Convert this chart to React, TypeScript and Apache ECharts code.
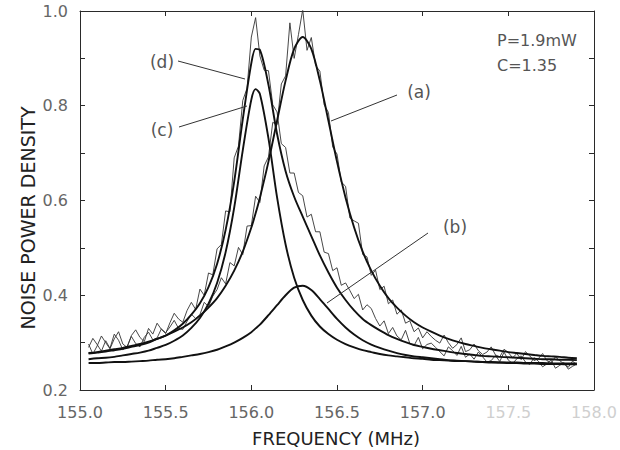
import React, { useEffect, useRef } from "react";
import * as echarts from "echarts";

// Frequencies (MHz) for the fitted curves
const freqFit = [
  155.05, 155.10, 155.15, 155.20, 155.25, 155.30, 155.35, 155.40, 155.45, 155.50,
  155.55, 155.60, 155.65, 155.70, 155.75, 155.80, 155.85, 155.90, 155.95, 156.00,
  156.025,
  156.05, 156.10, 156.15, 156.20, 156.25, 156.30, 156.35, 156.40, 156.45, 156.50,
  156.55, 156.60, 156.65, 156.70, 156.75, 156.80, 156.85, 156.90, 156.95, 157.00,
  157.05, 157.10, 157.15, 157.20, 157.25, 157.30, 157.35, 157.40, 157.45, 157.50,
  157.55, 157.60, 157.65, 157.70, 157.75, 157.80, 157.85, 157.90,
];

const fitA = [
  0.278, 0.280, 0.283, 0.286, 0.289, 0.293, 0.297, 0.302, 0.308, 0.315,
  0.323, 0.332, 0.343, 0.357, 0.374, 0.394, 0.420, 0.452, 0.492, 0.543,
  0.573,
  0.606, 0.682, 0.768, 0.853, 0.920, 0.945, 0.920, 0.853, 0.768, 0.682,
  0.606, 0.543, 0.492, 0.452, 0.420, 0.394, 0.374, 0.357, 0.343, 0.332,
  0.323, 0.315, 0.308, 0.302, 0.297, 0.293, 0.289, 0.286, 0.283, 0.280,
  0.278, 0.276, 0.274, 0.272, 0.271, 0.270, 0.268, 0.267,
];

const fitB = [
  0.257, 0.257, 0.258, 0.259, 0.259, 0.260, 0.261, 0.262, 0.264, 0.265,
  0.267, 0.270, 0.273, 0.276, 0.280, 0.285, 0.292, 0.300, 0.310, 0.322,
  0.330,
  0.338, 0.358, 0.379, 0.400, 0.416, 0.420, 0.411, 0.392, 0.371, 0.350,
  0.332, 0.317, 0.305, 0.296, 0.289, 0.283, 0.278, 0.274, 0.271, 0.269,
  0.267, 0.265, 0.263, 0.262, 0.261, 0.260, 0.259, 0.258, 0.258, 0.257,
  0.257, 0.256, 0.256, 0.255, 0.255, 0.255, 0.254, 0.254,
];

const fitC = [
  0.265, 0.267, 0.268, 0.270, 0.273, 0.276, 0.279, 0.283, 0.289, 0.295,
  0.304, 0.315, 0.331, 0.352, 0.382, 0.426, 0.491, 0.585, 0.706, 0.813,
  0.835,
  0.825, 0.731, 0.607, 0.507, 0.437, 0.390, 0.357, 0.334, 0.318, 0.306,
  0.297, 0.290, 0.284, 0.280, 0.276, 0.273, 0.271, 0.269, 0.267, 0.266,
  0.264, 0.263, 0.262, 0.261, 0.261, 0.260, 0.259, 0.259, 0.258, 0.258,
  0.258, 0.257, 0.257, 0.257, 0.256, 0.256, 0.256, 0.256,
];

const fitD = [
  0.277, 0.279, 0.281, 0.284, 0.287, 0.291, 0.295, 0.300, 0.308, 0.315,
  0.326, 0.340, 0.359, 0.383, 0.417, 0.466, 0.538, 0.640, 0.771, 0.890,
  0.920,
  0.918, 0.844, 0.741, 0.662, 0.608, 0.566, 0.525, 0.484, 0.448, 0.416,
  0.390, 0.368, 0.350, 0.337, 0.326, 0.316, 0.308, 0.301, 0.295, 0.291,
  0.287, 0.284, 0.281, 0.278, 0.276, 0.274, 0.272, 0.271, 0.270, 0.269,
  0.268, 0.267, 0.266, 0.265, 0.265, 0.264, 0.264, 0.263,
];

// Frequencies (MHz) for the measured (noisy) spectra
const freqNoisy = [
  155.050, 155.075, 155.100, 155.125, 155.150, 155.175, 155.200, 155.225, 155.250, 155.275,
  155.300, 155.325, 155.350, 155.375, 155.400, 155.425, 155.450, 155.475, 155.500, 155.525,
  155.550, 155.575, 155.600, 155.625, 155.650, 155.675, 155.700, 155.725, 155.750, 155.775,
  155.800, 155.825, 155.850, 155.875, 155.900, 155.925, 155.950, 155.975, 156.000, 156.025,
  156.050, 156.075, 156.100, 156.125, 156.150, 156.175, 156.200, 156.225, 156.250, 156.275,
  156.300, 156.325, 156.350, 156.375, 156.400, 156.425, 156.450, 156.475, 156.500, 156.525,
  156.550, 156.575, 156.600, 156.625, 156.650, 156.675, 156.700, 156.725, 156.750, 156.775,
  156.800, 156.825, 156.850, 156.875, 156.900, 156.925, 156.950, 156.975, 157.000, 157.025,
  157.050, 157.075, 157.100, 157.125, 157.150, 157.175, 157.200, 157.225, 157.250, 157.275,
  157.300, 157.325, 157.350, 157.375, 157.400, 157.425, 157.450, 157.475, 157.500, 157.525,
  157.550, 157.575, 157.600, 157.625, 157.650, 157.675, 157.700, 157.725, 157.750, 157.775,
  157.800, 157.825, 157.850, 157.875, 157.900,
];

const noisyA = [
  0.290, 0.309, 0.296, 0.282, 0.304, 0.288, 0.318, 0.305, 0.285, 0.292,
  0.313, 0.298, 0.291, 0.311, 0.322, 0.306, 0.310, 0.329, 0.321, 0.333,
  0.347, 0.330, 0.328, 0.345, 0.360, 0.351, 0.359, 0.385, 0.376, 0.398,
  0.412, 0.437, 0.424, 0.469, 0.462, 0.501, 0.486, 0.546, 0.547, 0.609,
  0.596, 0.673, 0.692, 0.765, 0.760, 0.846, 0.863, 0.975, 0.900, 0.950,
  1.003, 0.917, 0.944, 0.885, 0.873, 0.802, 0.786, 0.713, 0.698, 0.639,
  0.630, 0.563, 0.557, 0.552, 0.486, 0.481, 0.442, 0.453, 0.412, 0.419,
  0.382, 0.390, 0.360, 0.369, 0.341, 0.346, 0.323, 0.331, 0.310, 0.323,
  0.313, 0.305, 0.299, 0.316, 0.300, 0.288, 0.296, 0.310, 0.281, 0.285,
  0.297, 0.283, 0.275, 0.280, 0.291, 0.274, 0.270, 0.286, 0.279, 0.268,
  0.277, 0.264, 0.281, 0.272, 0.262, 0.266, 0.277, 0.262, 0.257, 0.270,
  0.262, 0.255, 0.248, 0.261, 0.253,
];

const noisyD = [
  0.297, 0.276, 0.293, 0.314, 0.300, 0.287, 0.308, 0.323, 0.297, 0.290,
  0.315, 0.327, 0.311, 0.302, 0.330, 0.318, 0.341, 0.328, 0.319, 0.342,
  0.362, 0.350, 0.343, 0.368, 0.385, 0.370, 0.413, 0.400, 0.447, 0.443,
  0.498, 0.507, 0.578, 0.576, 0.690, 0.715, 0.811, 0.837, 0.945, 0.986,
  0.905, 0.875, 0.874, 0.802, 0.787, 0.720, 0.712, 0.658, 0.658, 0.617,
  0.610, 0.565, 0.571, 0.534, 0.534, 0.491, 0.488, 0.452, 0.458, 0.421,
  0.426, 0.410, 0.393, 0.402, 0.369, 0.380, 0.372, 0.351, 0.335, 0.346,
  0.319, 0.332, 0.314, 0.306, 0.326, 0.298, 0.294, 0.311, 0.287, 0.296,
  0.299, 0.290, 0.281, 0.272, 0.291, 0.283, 0.273, 0.292, 0.269, 0.276,
  0.265, 0.280, 0.270, 0.259, 0.262, 0.273, 0.260, 0.280, 0.263, 0.256,
  0.266, 0.272, 0.259, 0.254, 0.268, 0.261, 0.249, 0.255, 0.263, 0.246,
  0.252, 0.258, 0.244, 0.250, 0.255,
];

const fadedTicks = [157.5, 158.0];

const pair = (xs: number[], ys: number[]) => xs.map((x, i) => [x, ys[i]]);

export default function App() {
  const ref = useRef<HTMLDivElement>(null);

  useEffect(() => {
    if (!ref.current) return;
    const chart = echarts.init(ref.current, null, { renderer: "svg" });
    const font = "DejaVu Sans";
    const ink = "#2a2a2a";
    const axisLine = { show: true, onZero: false, lineStyle: { color: ink, width: 1 } };
    const tick = { show: true, inside: true, length: 5, lineStyle: { color: ink, width: 1 } };

    const fitSeries = (name: string, ys: number[]) => ({
      name,
      type: "line",
      data: pair(freqFit, ys),
      symbol: "none",
      smooth: 0.3,
      lineStyle: { color: "#111", width: 1.9 },
      z: 3,
    });
    const noisySeries = (name: string, ys: number[]) => ({
      name,
      type: "line",
      data: pair(freqNoisy, ys),
      symbol: "none",
      lineStyle: { color: "#333", width: 0.9 },
      z: 2,
    });

    const labelText = (text: string, x: number, y: number, size = 17) => ({
      type: "text",
      x,
      y,
      style: {
        text,
        fontFamily: font,
        fontSize: size,
        fill: "#555",
        align: "center",
        verticalAlign: "middle",
      },
      z: 10,
    });
    const leader = (x1: number, y1: number, x2: number, y2: number) => ({
      type: "line",
      shape: { x1, y1, x2, y2 },
      style: { stroke: "#333", lineWidth: 1 },
      z: 10,
    });

    chart.setOption({
      animation: false,
      backgroundColor: "#ffffff",
      grid: { left: 80, right: 26, top: 11, bottom: 60 },
      xAxis: [
        {
          type: "value",
          min: 155,
          max: 158,
          interval: 0.5,
          position: "bottom",
          axisLine,
          axisTick: tick,
          splitLine: { show: false },
          axisLabel: {
            formatter: (v: number) => v.toFixed(1),
            color: (v: any) =>
              fadedTicks.some((t) => Math.abs(parseFloat(v) - t) < 1e-6) ? "#cfcfcf" : "#666",
            fontFamily: font,
            fontSize: 16,
            margin: 14,
          },
        },
        {
          type: "value",
          min: 155,
          max: 158,
          interval: 0.5,
          position: "top",
          axisLine,
          axisTick: tick,
          splitLine: { show: false },
          axisLabel: { show: false },
        },
      ],
      yAxis: [
        {
          type: "value",
          min: 0.2,
          max: 1.0,
          interval: 0.2,
          position: "left",
          axisLine,
          axisTick: tick,
          minorTick: { show: true, splitNumber: 2, length: 5, lineStyle: { color: ink, width: 1 } },
          splitLine: { show: false },
          minorSplitLine: { show: false },
          axisLabel: {
            formatter: (v: number) => v.toFixed(1),
            color: "#666",
            fontFamily: font,
            fontSize: 16,
            margin: 12,
          },
        },
        {
          type: "value",
          min: 0.2,
          max: 1.0,
          interval: 0.2,
          position: "right",
          axisLine,
          axisTick: tick,
          minorTick: { show: true, splitNumber: 2, length: 5, lineStyle: { color: ink, width: 1 } },
          splitLine: { show: false },
          minorSplitLine: { show: false },
          axisLabel: { show: false },
        },
      ],
      series: [
        noisySeries("data a", noisyA),
        noisySeries("data d", noisyD),
        fitSeries("(a)", fitA),
        fitSeries("(b)", fitB),
        fitSeries("(c)", fitC),
        fitSeries("(d)", fitD),
      ],
      graphic: [
        {
          type: "text",
          x: 28,
          y: 218,
          rotation: Math.PI / 2,
          style: {
            text: "NOISE POWER DENSITY",
            fontFamily: font,
            fontSize: 19,
            fill: "#222",
            align: "center",
            verticalAlign: "middle",
          },
        },
        {
          type: "text",
          x: 336,
          y: 438,
          style: {
            text: "FREQUENCY (MHz)",
            fontFamily: font,
            fontSize: 18,
            fill: "#222",
            align: "center",
            verticalAlign: "middle",
          },
        },
        {
          type: "text",
          x: 497,
          y: 40,
          style: {
            text: "P=1.9mW",
            fontFamily: font,
            fontSize: 16,
            fill: "#555",
            align: "left",
            verticalAlign: "middle",
          },
        },
        {
          type: "text",
          x: 497,
          y: 65,
          style: {
            text: "C=1.35",
            fontFamily: font,
            fontSize: 16,
            fill: "#555",
            align: "left",
            verticalAlign: "middle",
          },
        },
        labelText("(d)", 162, 62),
        labelText("(c)", 162, 130),
        labelText("(a)", 419, 92),
        labelText("(b)", 455, 227),
        leader(178, 61, 245, 79),
        leader(179, 127, 247, 106),
        leader(397, 95, 331, 121),
        leader(428, 233, 327, 303),
      ],
    });

    return () => chart.dispose();
  }, []);

  return (
    <div
      ref={ref}
      style={{ position: "fixed", left: 0, top: 0, width: 620, height: 450 }}
    />
  );
}
